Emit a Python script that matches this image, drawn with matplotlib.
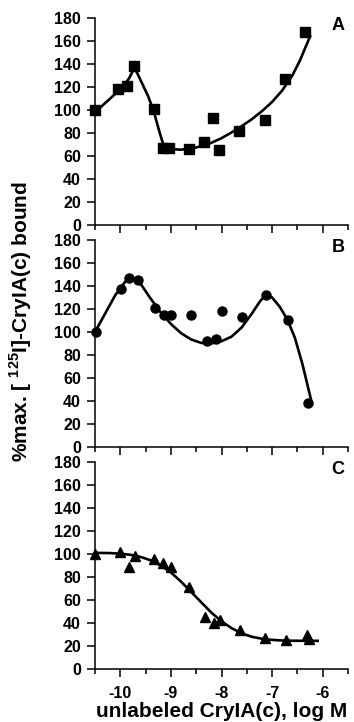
import numpy as np
import matplotlib
matplotlib.use("Agg")
import matplotlib.pyplot as plt
from matplotlib.ticker import MultipleLocator

plt.rcParams["font.family"] = ["Liberation Sans", "DejaVu Sans"]
plt.rcParams["font.weight"] = "bold"
plt.rcParams["axes.unicode_minus"] = False
plt.rcParams["mathtext.fontset"] = "custom"
plt.rcParams["mathtext.rm"] = "Liberation Sans:bold"
plt.rcParams["mathtext.bf"] = "Liberation Sans:bold"

# panel A: squares
a_x = [-10.5, -10.04, -9.87, -9.72, -9.34, -9.16, -9.03, -8.64, -8.34, -8.16,
       -8.04, -7.65, -7.15, -6.74, -6.34]
a_y = [100, 118, 121, 138, 101, 67, 67, 66, 72, 93, 65, 82, 91, 127, 168]
a_fit_x = [-10.5, -10.3, -10.1, -9.95, -9.82, -9.72, -9.6, -9.45, -9.34, -9.22,
           -9.13, -9.0, -8.8, -8.6, -8.4, -8.2, -8.0, -7.8, -7.6, -7.4, -7.2,
           -7.0, -6.8, -6.6, -6.45, -6.25]
a_fit_y = [98, 106, 114, 120, 128, 137, 126, 112, 99, 80, 67, 66, 65.5, 66.5,
           68.5, 71.5, 75.5, 80.5, 86, 92, 99, 107, 117, 130, 143, 164]

# panel B: circles
b_x = [-10.49, -9.99, -9.82, -9.66, -9.31, -9.13, -8.99, -8.60, -8.29, -8.11,
       -7.99, -7.59, -7.12, -6.69, -6.30]
b_y = [100, 137, 147, 145, 121, 115, 115, 115, 92, 94, 118, 113, 132, 110, 38]
b_fit_x = [-10.5, -10.3, -10.1, -9.9, -9.75, -9.6, -9.4, -9.2, -9.0, -8.8, -8.6,
           -8.4, -8.2, -8.0, -7.8, -7.6, -7.4, -7.25, -7.12, -7.0, -6.85, -6.7,
           -6.55, -6.4, -6.23]
b_fit_y = [100, 116, 132, 144, 147, 142, 129, 117, 107, 99, 93.5, 90.5, 90, 92,
           96, 104, 116, 126, 133, 130, 122, 111, 95, 72, 41]

# panel C: triangles
c_x = [-10.5, -10.0, -9.82, -9.71, -9.33, -9.15, -9.0, -8.64, -8.33, -8.14,
       -8.03, -7.63, -7.14, -6.73, -6.32, -6.28]
c_y = [100, 102, 89, 98, 96, 92, 89, 71, 45, 40, 43, 34, 27, 25, 29.5, 26]
c_fit_x = [-10.5, -10.2, -10.0, -9.8, -9.6, -9.4, -9.2, -9.0, -8.8, -8.6, -8.4,
           -8.2, -8.0, -7.8, -7.6, -7.4, -7.2, -7.0, -6.8, -6.6, -6.4, -6.1]
c_fit_y = [101, 100.8, 100.3, 99.3, 97.5, 94.5, 90, 84, 76, 67, 58, 49, 41.5,
           35.5, 31, 28, 26.3, 25.3, 24.8, 24.6, 24.5, 24.5]

panels = [
    ("A", a_x, a_y, a_fit_x, a_fit_y, "s", 6.5),
    ("B", b_x, b_y, b_fit_x, b_fit_y, "o", 6.5),
    ("C", c_x, c_y, c_fit_x, c_fit_y, "^", 7.5),
]

fig = plt.figure(figsize=(3.54, 7.22), dpi=100)
left, width = 95 / 354, 253 / 354
tops = [18, 240, 462]
h = 207

for k, (lab, x, y, fx, fy, mk, ms) in enumerate(panels):
    ax = fig.add_axes([left, 1 - (tops[k] + h) / 722, width, h / 722])
    ax.plot(fx, fy, color="black", lw=1.9, clip_on=False, zorder=2)
    ax.plot(x, y, linestyle="none", marker=mk, ms=ms, color="black",
            clip_on=False, zorder=3)
    ax.set_xlim(-10.5, -5.5)
    ax.set_ylim(0, 180)
    ax.yaxis.set_major_locator(MultipleLocator(20))
    ax.xaxis.set_major_locator(MultipleLocator(1))
    ax.xaxis.set_minor_locator(MultipleLocator(0.5))
    for s in ["top", "right"]:
        ax.spines[s].set_visible(False)
    for s in ["left", "bottom"]:
        ax.spines[s].set_linewidth(1.1)
    ax.tick_params(axis="y", direction="out", length=5.5, width=1.1,
                   labelsize=11.5, pad=4.5)
    ax.tick_params(axis="x", which="major", direction="out", length=6,
                   width=1.1, labelsize=11.5, pad=6)
    ax.tick_params(axis="x", which="minor", direction="out", length=3.5,
                   width=1.1)
    for t in ax.get_yticklabels() + ax.get_xticklabels():
        t.set_fontweight("bold")
    if k < 2:
        ax.set_xticklabels([])
    else:
        ax.set_xlabel("unlabeled CryIA(c), log M", fontsize=15,
                      fontweight="bold", labelpad=1)
    ax.text(0.96, 0.965, lab, transform=ax.transAxes, ha="center",
            va="center", fontsize=13, fontweight="bold")

fig.text(21 / 354, 1 - 322 / 722, r"%max. [ $^{125}$I]-CryIA(c) bound",
         rotation=90, ha="center", va="center", fontsize=15,
         fontweight="bold")

fig.savefig("out.png", dpi=100, facecolor="white")
